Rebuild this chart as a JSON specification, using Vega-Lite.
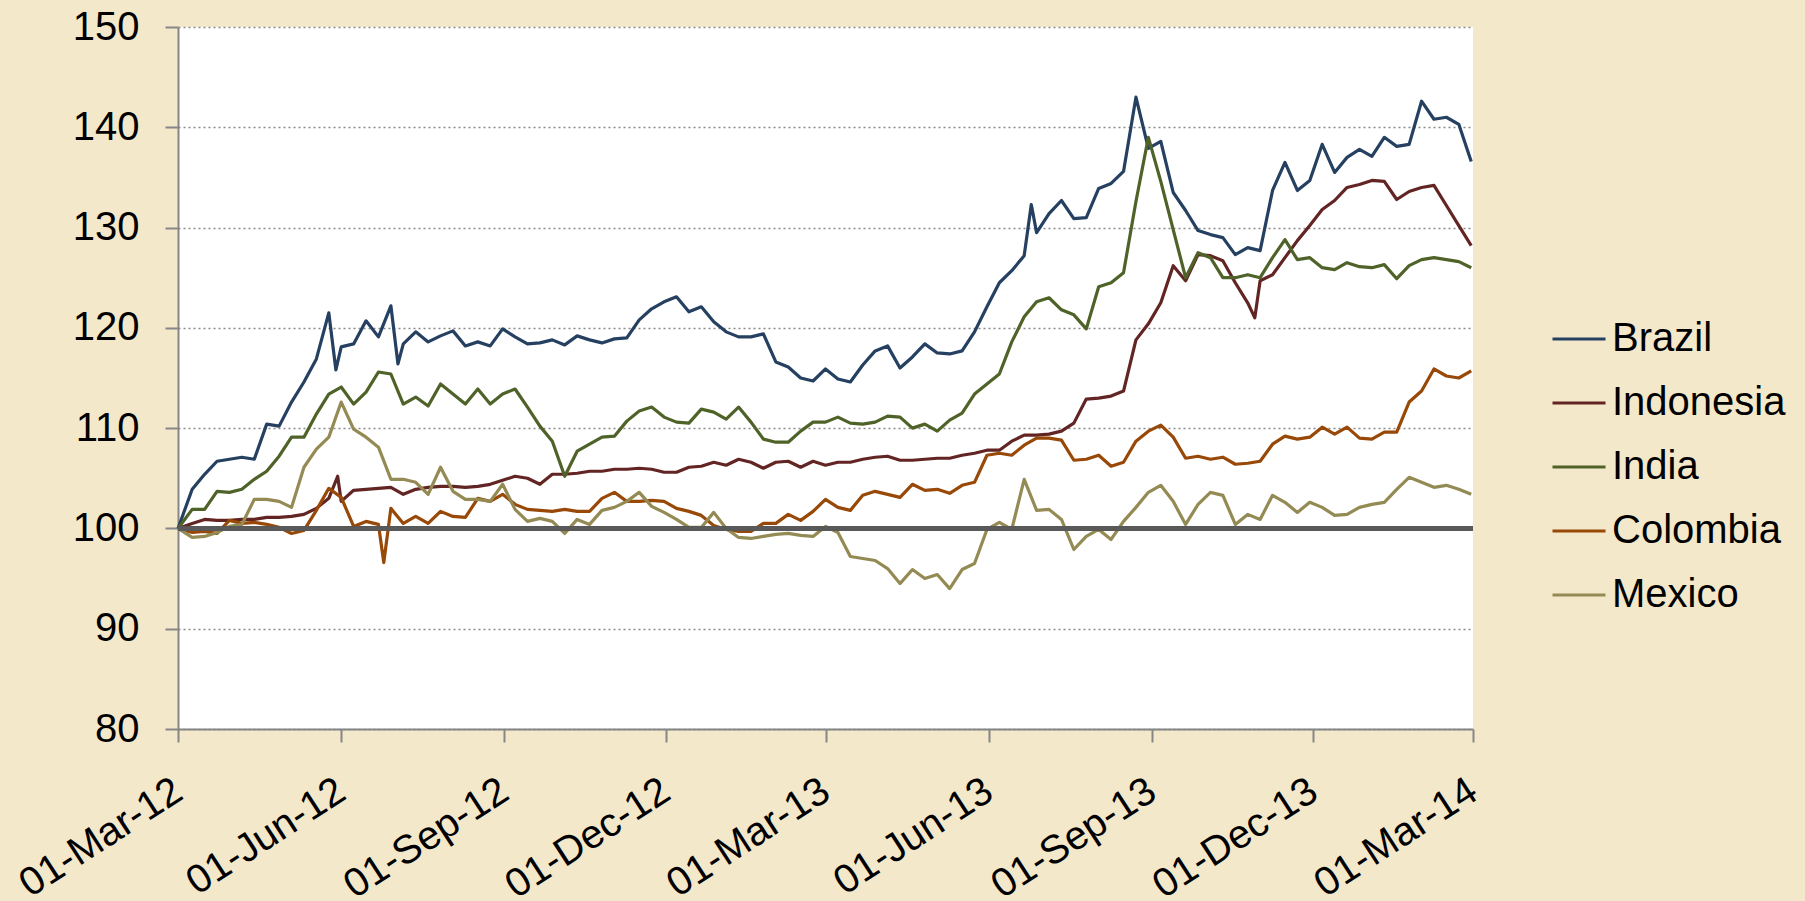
{
  "$schema": "https://vega.github.io/schema/vega-lite/v6.json",
  "width": 1295,
  "height": 702,
  "autosize": {"type": "none"},
  "padding": {"left": 178, "top": 27, "right": 332, "bottom": 172},
  "background": "#F4E8CB",
  "config": {
    "view": {"fill": "#FFFFFF", "stroke": null},
    "font": "Liberation Sans",
    "axis": {
      "labelFont": "Liberation Sans",
      "labelFontSize": 40,
      "labelColor": "#000000",
      "labelLimit": 500,
      "domainColor": "#868686",
      "domainWidth": 2,
      "tickColor": "#868686",
      "tickWidth": 2,
      "tickSize": 13,
      "title": null
    }
  },
  "data": {
    "values": [
      {"d": "2012-03-01", "Brazil": 100, "Indonesia": 100, "India": 100, "Colombia": 100, "Mexico": 100},
      {"d": "2012-03-09", "Brazil": 103.9, "Indonesia": 100.5, "India": 101.9, "Colombia": 99.6, "Mexico": 99.1},
      {"d": "2012-03-16", "Brazil": 105.4, "Indonesia": 100.9, "India": 101.9, "Colombia": 99.7, "Mexico": 99.2},
      {"d": "2012-03-23", "Brazil": 106.7, "Indonesia": 100.8, "India": 103.7, "Colombia": 99.5, "Mexico": 99.6},
      {"d": "2012-03-30", "Brazil": 106.9, "Indonesia": 100.8, "India": 103.6, "Colombia": 100.8, "Mexico": 100.2},
      {"d": "2012-04-06", "Brazil": 107.1, "Indonesia": 100.9, "India": 103.9, "Colombia": 100.5, "Mexico": 100.4},
      {"d": "2012-04-13", "Brazil": 106.9, "Indonesia": 100.9, "India": 104.9, "Colombia": 100.6, "Mexico": 102.9},
      {"d": "2012-04-20", "Brazil": 110.4, "Indonesia": 101.1, "India": 105.7, "Colombia": 100.4, "Mexico": 102.9},
      {"d": "2012-04-27", "Brazil": 110.2, "Indonesia": 101.1, "India": 107.2, "Colombia": 100.1, "Mexico": 102.7},
      {"d": "2012-05-04", "Brazil": 112.6, "Indonesia": 101.2, "India": 109.1, "Colombia": 99.5, "Mexico": 102.1},
      {"d": "2012-05-11", "Brazil": 114.6, "Indonesia": 101.4, "India": 109.1, "Colombia": 99.8, "Mexico": 106.1},
      {"d": "2012-05-18", "Brazil": 116.9, "Indonesia": 102.0, "India": 111.4, "Colombia": 101.8, "Mexico": 107.9},
      {"d": "2012-05-25", "Brazil": 121.5, "Indonesia": 103.0, "India": 113.4, "Colombia": 104.0, "Mexico": 109.1},
      {"d": "2012-05-29", "Brazil": 115.8},
      {"d": "2012-05-30", "Indonesia": 105.2},
      {"d": "2012-06-01", "Brazil": 118.1, "Indonesia": 102.7, "India": 114.1, "Colombia": 103.1, "Mexico": 112.6},
      {"d": "2012-06-08", "Brazil": 118.4, "Indonesia": 103.8, "India": 112.4, "Colombia": 100.2, "Mexico": 109.9},
      {"d": "2012-06-15", "Brazil": 120.7, "Indonesia": 103.9, "India": 113.6, "Colombia": 100.7, "Mexico": 109.1},
      {"d": "2012-06-22", "Brazil": 119.1, "Indonesia": 104.0, "India": 115.6, "Colombia": 100.4, "Mexico": 108.1},
      {"d": "2012-06-25", "Colombia": 96.6},
      {"d": "2012-06-29", "Brazil": 122.2, "Indonesia": 104.1, "India": 115.4, "Colombia": 102.0, "Mexico": 104.9},
      {"d": "2012-07-03", "Brazil": 116.4},
      {"d": "2012-07-06", "Brazil": 118.4, "Indonesia": 103.4, "India": 112.4, "Colombia": 100.5, "Mexico": 104.9},
      {"d": "2012-07-13", "Brazil": 119.6, "Indonesia": 103.9, "India": 113.1, "Colombia": 101.2, "Mexico": 104.6},
      {"d": "2012-07-20", "Brazil": 118.6, "Indonesia": 104.1, "India": 112.2, "Colombia": 100.5, "Mexico": 103.4},
      {"d": "2012-07-27", "Brazil": 119.2, "Indonesia": 104.2, "India": 114.4, "Colombia": 101.7, "Mexico": 106.1},
      {"d": "2012-08-03", "Brazil": 119.7, "Indonesia": 104.2, "India": 113.4, "Colombia": 101.2, "Mexico": 103.7},
      {"d": "2012-08-10", "Brazil": 118.2, "Indonesia": 104.1, "India": 112.4, "Colombia": 101.1, "Mexico": 102.9},
      {"d": "2012-08-17", "Brazil": 118.6, "Indonesia": 104.2, "India": 113.9, "Colombia": 103.0, "Mexico": 102.9},
      {"d": "2012-08-24", "Brazil": 118.2, "Indonesia": 104.4, "India": 112.4, "Colombia": 102.7, "Mexico": 102.7},
      {"d": "2012-08-31", "Brazil": 119.9, "Indonesia": 104.8, "India": 113.4, "Colombia": 103.4, "Mexico": 104.4},
      {"d": "2012-09-07", "Brazil": 119.1, "Indonesia": 105.2, "India": 113.9, "Colombia": 102.4, "Mexico": 101.9},
      {"d": "2012-09-14", "Brazil": 118.4, "Indonesia": 105.0, "India": 112.1, "Colombia": 101.9, "Mexico": 100.7},
      {"d": "2012-09-21", "Brazil": 118.5, "Indonesia": 104.4, "India": 110.2, "Colombia": 101.8, "Mexico": 101.0},
      {"d": "2012-09-28", "Brazil": 118.8, "Indonesia": 105.4, "India": 108.7, "Colombia": 101.7, "Mexico": 100.7},
      {"d": "2012-10-05", "Brazil": 118.3, "Indonesia": 105.4, "India": 105.2, "Colombia": 101.9, "Mexico": 99.5},
      {"d": "2012-10-12", "Brazil": 119.2, "Indonesia": 105.5, "India": 107.7, "Colombia": 101.7, "Mexico": 100.9},
      {"d": "2012-10-19", "Brazil": 118.8, "Indonesia": 105.7, "India": 108.4, "Colombia": 101.7, "Mexico": 100.4},
      {"d": "2012-10-26", "Brazil": 118.5, "Indonesia": 105.7, "India": 109.1, "Colombia": 103.0, "Mexico": 101.8},
      {"d": "2012-11-02", "Brazil": 118.9, "Indonesia": 105.9, "India": 109.2, "Colombia": 103.6, "Mexico": 102.1},
      {"d": "2012-11-09", "Brazil": 119.0, "Indonesia": 105.9, "India": 110.7, "Colombia": 102.7, "Mexico": 102.7},
      {"d": "2012-11-16", "Brazil": 120.8, "Indonesia": 106.0, "India": 111.7, "Colombia": 102.7, "Mexico": 103.6},
      {"d": "2012-11-23", "Brazil": 121.9, "Indonesia": 105.9, "India": 112.1, "Colombia": 102.8, "Mexico": 102.2},
      {"d": "2012-11-30", "Brazil": 122.6, "Indonesia": 105.6, "India": 111.1, "Colombia": 102.7, "Mexico": 101.6},
      {"d": "2012-12-07", "Brazil": 123.1, "Indonesia": 105.6, "India": 110.6, "Colombia": 102.0, "Mexico": 100.9},
      {"d": "2012-12-14", "Brazil": 121.6, "Indonesia": 106.1, "India": 110.5, "Colombia": 101.7, "Mexico": 100.1},
      {"d": "2012-12-21", "Brazil": 122.1, "Indonesia": 106.2, "India": 111.9, "Colombia": 101.3, "Mexico": 100.1},
      {"d": "2012-12-28", "Brazil": 120.6, "Indonesia": 106.6, "India": 111.6, "Colombia": 100.3, "Mexico": 101.6},
      {"d": "2013-01-04", "Brazil": 119.6, "Indonesia": 106.3, "India": 110.9, "Colombia": 99.9, "Mexico": 100.0},
      {"d": "2013-01-11", "Brazil": 119.1, "Indonesia": 106.9, "India": 112.1, "Colombia": 99.7, "Mexico": 99.1},
      {"d": "2013-01-18", "Brazil": 119.1, "Indonesia": 106.6, "India": 110.6, "Colombia": 99.7, "Mexico": 99.0},
      {"d": "2013-01-25", "Brazil": 119.4, "Indonesia": 106.0, "India": 108.9, "Colombia": 100.5, "Mexico": 99.2},
      {"d": "2013-02-01", "Brazil": 116.6, "Indonesia": 106.6, "India": 108.6, "Colombia": 100.5, "Mexico": 99.4},
      {"d": "2013-02-08", "Brazil": 116.1, "Indonesia": 106.7, "India": 108.6, "Colombia": 101.4, "Mexico": 99.5},
      {"d": "2013-02-15", "Brazil": 115.0, "Indonesia": 106.1, "India": 109.7, "Colombia": 100.8, "Mexico": 99.3},
      {"d": "2013-02-22", "Brazil": 114.7, "Indonesia": 106.7, "India": 110.6, "Colombia": 101.7, "Mexico": 99.2},
      {"d": "2013-03-01", "Brazil": 115.9, "Indonesia": 106.3, "India": 110.6, "Colombia": 102.9, "Mexico": 100.2},
      {"d": "2013-03-08", "Brazil": 114.9, "Indonesia": 106.6, "India": 111.1, "Colombia": 102.1, "Mexico": 99.6},
      {"d": "2013-03-15", "Brazil": 114.6, "Indonesia": 106.6, "India": 110.5, "Colombia": 101.8, "Mexico": 97.2},
      {"d": "2013-03-22", "Brazil": 116.3, "Indonesia": 106.9, "India": 110.4, "Colombia": 103.3, "Mexico": 97.0},
      {"d": "2013-03-29", "Brazil": 117.7, "Indonesia": 107.1, "India": 110.6, "Colombia": 103.7, "Mexico": 96.8},
      {"d": "2013-04-05", "Brazil": 118.2, "Indonesia": 107.2, "India": 111.2, "Colombia": 103.4, "Mexico": 96.0},
      {"d": "2013-04-12", "Brazil": 116.0, "Indonesia": 106.8, "India": 111.1, "Colombia": 103.1, "Mexico": 94.5},
      {"d": "2013-04-19", "Brazil": 117.1, "Indonesia": 106.8, "India": 110.0, "Colombia": 104.4, "Mexico": 95.9},
      {"d": "2013-04-26", "Brazil": 118.4, "Indonesia": 106.9, "India": 110.4, "Colombia": 103.8, "Mexico": 95.0},
      {"d": "2013-05-03", "Brazil": 117.5, "Indonesia": 107.0, "India": 109.7, "Colombia": 103.9, "Mexico": 95.4},
      {"d": "2013-05-10", "Brazil": 117.4, "Indonesia": 107.0, "India": 110.8, "Colombia": 103.5, "Mexico": 94.0},
      {"d": "2013-05-17", "Brazil": 117.7, "Indonesia": 107.3, "India": 111.5, "Colombia": 104.3, "Mexico": 95.9},
      {"d": "2013-05-24", "Brazil": 119.6, "Indonesia": 107.5, "India": 113.4, "Colombia": 104.6, "Mexico": 96.5},
      {"d": "2013-05-31", "Brazil": 122.1, "Indonesia": 107.8, "India": 114.4, "Colombia": 107.3, "Mexico": 99.9},
      {"d": "2013-06-07", "Brazil": 124.5, "Indonesia": 107.8, "India": 115.4, "Colombia": 107.5, "Mexico": 100.6},
      {"d": "2013-06-14", "Brazil": 125.7, "Indonesia": 108.7, "India": 118.6, "Colombia": 107.3, "Mexico": 99.9},
      {"d": "2013-06-21", "Brazil": 127.2, "Indonesia": 109.3, "India": 121.1, "Colombia": 108.3, "Mexico": 104.9},
      {"d": "2013-06-25", "Brazil": 132.3},
      {"d": "2013-06-28", "Brazil": 129.5, "Indonesia": 109.3, "India": 122.6, "Colombia": 109.0, "Mexico": 101.8},
      {"d": "2013-07-05", "Brazil": 131.4, "Indonesia": 109.4, "India": 123.0, "Colombia": 109.0, "Mexico": 101.9},
      {"d": "2013-07-12", "Brazil": 132.7, "Indonesia": 109.7, "India": 121.8, "Colombia": 108.8, "Mexico": 100.9},
      {"d": "2013-07-19", "Brazil": 130.9, "Indonesia": 110.5, "India": 121.3, "Colombia": 106.8, "Mexico": 97.9},
      {"d": "2013-07-26", "Brazil": 131.0, "Indonesia": 112.9, "India": 119.9, "Colombia": 106.9, "Mexico": 99.2},
      {"d": "2013-08-02", "Brazil": 133.9, "Indonesia": 113.0, "India": 124.1, "Colombia": 107.3, "Mexico": 99.9},
      {"d": "2013-08-09", "Brazil": 134.4, "Indonesia": 113.2, "India": 124.5, "Colombia": 106.2, "Mexico": 98.9},
      {"d": "2013-08-16", "Brazil": 135.6, "Indonesia": 113.7, "India": 125.5, "Colombia": 106.6, "Mexico": 100.7},
      {"d": "2013-08-23", "Brazil": 143.0, "Indonesia": 118.8, "India": 132.6, "Colombia": 108.7, "Mexico": 102.1},
      {"d": "2013-08-30", "Brazil": 137.9, "Indonesia": 120.4, "India": 139.0, "Colombia": 109.7, "Mexico": 103.6},
      {"d": "2013-09-06", "Brazil": 138.6, "Indonesia": 122.5, "India": 134.6, "Colombia": 110.3, "Mexico": 104.3},
      {"d": "2013-09-13", "Brazil": 133.5, "Indonesia": 126.2, "India": 129.8, "Colombia": 109.1, "Mexico": 102.7},
      {"d": "2013-09-20", "Brazil": 131.7, "Indonesia": 124.7, "India": 125.0, "Colombia": 107.0, "Mexico": 100.4},
      {"d": "2013-09-27", "Brazil": 129.7, "Indonesia": 127.3, "India": 127.5, "Colombia": 107.2, "Mexico": 102.4},
      {"d": "2013-10-04", "Brazil": 129.3, "Indonesia": 127.2, "India": 127.0, "Colombia": 106.9, "Mexico": 103.6},
      {"d": "2013-10-11", "Brazil": 129.0, "Indonesia": 126.7, "India": 125.0, "Colombia": 107.1, "Mexico": 103.3},
      {"d": "2013-10-18", "Brazil": 127.3, "Indonesia": 124.5, "India": 125.0, "Colombia": 106.4, "Mexico": 100.4},
      {"d": "2013-10-25", "Brazil": 128.0, "Indonesia": 122.5, "India": 125.3, "Colombia": 106.5, "Mexico": 101.4},
      {"d": "2013-10-29", "Indonesia": 121.0},
      {"d": "2013-11-01", "Brazil": 127.7, "Indonesia": 124.7, "India": 125.0, "Colombia": 106.7, "Mexico": 100.9},
      {"d": "2013-11-08", "Brazil": 133.7, "Indonesia": 125.3, "India": 127.0, "Colombia": 108.4, "Mexico": 103.3},
      {"d": "2013-11-15", "Brazil": 136.5, "Indonesia": 127.0, "India": 128.8, "Colombia": 109.2, "Mexico": 102.6},
      {"d": "2013-11-22", "Brazil": 133.7, "Indonesia": 128.7, "India": 126.8, "Colombia": 108.9, "Mexico": 101.6},
      {"d": "2013-11-29", "Brazil": 134.7, "Indonesia": 130.2, "India": 127.0, "Colombia": 109.1, "Mexico": 102.6},
      {"d": "2013-12-06", "Brazil": 138.3, "Indonesia": 131.8, "India": 126.0, "Colombia": 110.1, "Mexico": 102.1},
      {"d": "2013-12-13", "Brazil": 135.5, "Indonesia": 132.7, "India": 125.8, "Colombia": 109.4, "Mexico": 101.3},
      {"d": "2013-12-20", "Brazil": 137.0, "Indonesia": 134.0, "India": 126.5, "Colombia": 110.1, "Mexico": 101.4},
      {"d": "2013-12-27", "Brazil": 137.8, "Indonesia": 134.3, "India": 126.1, "Colombia": 109.0, "Mexico": 102.1},
      {"d": "2014-01-03", "Brazil": 137.1, "Indonesia": 134.7, "India": 126.0, "Colombia": 108.9, "Mexico": 102.4},
      {"d": "2014-01-10", "Brazil": 139.0, "Indonesia": 134.6, "India": 126.3, "Colombia": 109.6, "Mexico": 102.6},
      {"d": "2014-01-17", "Brazil": 138.1, "Indonesia": 132.8, "India": 124.9, "Colombia": 109.6, "Mexico": 103.9},
      {"d": "2014-01-24", "Brazil": 138.3, "Indonesia": 133.6, "India": 126.2, "Colombia": 112.6, "Mexico": 105.1},
      {"d": "2014-01-31", "Brazil": 142.6, "Indonesia": 134.0, "India": 126.8, "Colombia": 113.7, "Mexico": 104.6},
      {"d": "2014-02-07", "Brazil": 140.8, "Indonesia": 134.2, "India": 127.0, "Colombia": 115.9, "Mexico": 104.1},
      {"d": "2014-02-14", "Brazil": 141.0, "Indonesia": 132.2, "India": 126.8, "Colombia": 115.2, "Mexico": 104.3},
      {"d": "2014-02-21", "Brazil": 140.3, "Indonesia": 130.2, "India": 126.6, "Colombia": 115.0, "Mexico": 103.9},
      {"d": "2014-02-28", "Brazil": 136.6, "Indonesia": 128.2, "India": 126.0, "Colombia": 115.7, "Mexico": 103.4}
    ]
  },
  "layer": [
    {
      "transform": [
        {"fold": ["Brazil", "Indonesia", "India", "Colombia", "Mexico"], "as": ["country", "value"]},
        {"filter": "isValid(datum.value)"}
      ],
      "mark": {"type": "line", "strokeWidth": 3.2, "strokeJoin": "round"},
      "encoding": {
        "x": {
          "field": "d",
          "type": "temporal",
          "scale": {
            "type": "utc",
            "domain": [
              {"year": 2012, "month": 3, "date": 1, "utc": true},
              {"year": 2014, "month": 3, "date": 1, "utc": true}
            ]
          },
          "axis": {
            "values": [
              {"year": 2012, "month": 3, "date": 1, "utc": true},
              {"year": 2012, "month": 6, "date": 1, "utc": true},
              {"year": 2012, "month": 9, "date": 1, "utc": true},
              {"year": 2012, "month": 12, "date": 1, "utc": true},
              {"year": 2013, "month": 3, "date": 1, "utc": true},
              {"year": 2013, "month": 6, "date": 1, "utc": true},
              {"year": 2013, "month": 9, "date": 1, "utc": true},
              {"year": 2013, "month": 12, "date": 1, "utc": true},
              {"year": 2014, "month": 3, "date": 1, "utc": true}
            ],
            "labelExpr": "utcFormat(datum.value, '%d-%b-%y')",
            "labelAngle": -33,
            "labelAlign": "right",
            "labelBaseline": "middle",
            "labelPadding": 45,
            "labelLimit": 500,
            "labelOverlap": false,
            "labelFlush": false,
            "labelBound": false,
            "grid": false
          }
        },
        "y": {
          "field": "value",
          "type": "quantitative",
          "scale": {"domain": [80, 150], "nice": false, "zero": false},
          "axis": {
            "values": [80, 90, 100, 110, 120, 130, 140, 150],
            "labelPadding": 26,
            "grid": true,
            "gridColor": "#8A8A8A",
            "gridDash": [2, 3],
            "gridWidth": 1.5
          }
        },
        "color": {
          "field": "country",
          "type": "nominal",
          "scale": {
            "domain": ["Brazil", "Indonesia", "India", "Colombia", "Mexico"],
            "range": ["#254061", "#632523", "#4F6228", "#984807", "#948A54"]
          },
          "legend": {
            "orient": "none",
            "legendX": 1373,
            "legendY": 284,
            "title": null,
            "symbolType": "stroke",
            "symbolSize": 2809,
            "symbolStrokeWidth": 3,
            "labelFont": "Liberation Sans",
            "labelFontSize": 40,
            "labelColor": "#000000",
            "labelOffset": 5,
            "labelLimit": 400,
            "rowPadding": 16,
            "padding": 0
          }
        }
      }
    },
    {
      "mark": {"type": "rule", "color": "#595959", "strokeWidth": 3.5},
      "encoding": {"y": {"datum": 100}}
    }
  ]
}
